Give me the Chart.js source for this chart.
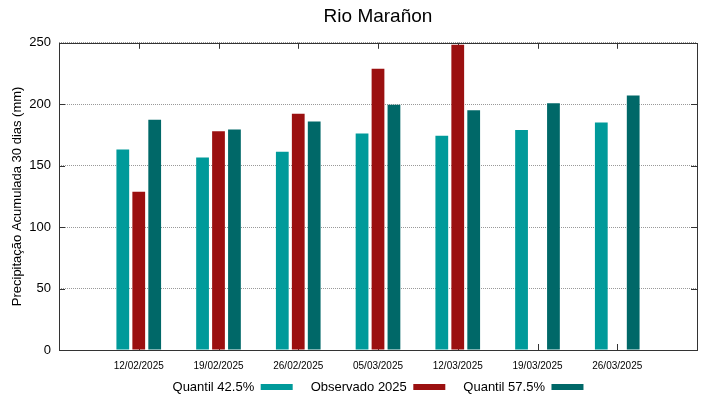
<!DOCTYPE html>
<html>
<head>
<meta charset="utf-8">
<script src="https://cdn.jsdelivr.net/npm/chart.js@4/dist/chart.umd.min.js"></script>
<style>
  html, body { margin: 0; padding: 0; background: #fff; }
  #wrap { width: 719px; height: 399px; }
</style>
</head>
<body>
<div id="wrap"><canvas id="grafico"></canvas></div>
<script>
const datas = ['12/02/2025', '19/02/2025', '26/02/2025', '05/03/2025', '12/03/2025', '19/03/2025', '26/03/2025'];
const quantil425 = [163.2, 156.7, 161.3, 176.2, 174.3, 179.0, 185.2];
const observado2025 = [128.8, 178.1, 192.2, 228.9, 248.4, null, null];
const quantil575 = [187.4, 179.5, 186.0, 199.6, 195.2, 200.9, 207.2];
const yMin = 0, yMax = 250, yPasso = 50;

// uma categoria vazia em cada ponta, como no grafico original
const comBorda = arr => [null, ...arr, null];
const rotulos = ['', ...datas, ''];

Chart.defaults.font.family = "'Liberation Sans', Arial, sans-serif";
Chart.defaults.color = '#000';

// moldura e marcas internas (estilo gnuplot)
const moldura = {
    id: 'moldura',
    beforeDatasetsDraw(chart) {
        const { ctx, chartArea: a, scales: { x, y } } = chart;
        ctx.save();
        ctx.strokeStyle = '#333';
        ctx.lineWidth = 1;
        ctx.beginPath();
        x.ticks.forEach((t, i) => {
            if (!x.getLabelForValue(t.value)) return;
            const px = Math.round(x.getPixelForTick(i)) + 0.5;
            ctx.moveTo(px, a.top); ctx.lineTo(px, a.top + 6);
            ctx.moveTo(px, a.bottom); ctx.lineTo(px, a.bottom - 6);
        });
        y.ticks.forEach((t, i) => {
            const py = Math.round(y.getPixelForTick(i)) + 0.5;
            ctx.moveTo(a.left, py); ctx.lineTo(a.left + 6, py);
            ctx.moveTo(a.right, py); ctx.lineTo(a.right - 6, py);
        });
        ctx.stroke();
        ctx.restore();
    },
    afterDatasetsDraw(chart) {
        const { ctx, chartArea: a } = chart;
        ctx.save();
        ctx.strokeStyle = '#333';
        ctx.lineWidth = 1;
        ctx.strokeRect(Math.round(a.left) + 0.5, Math.round(a.top) + 0.5,
            Math.round(a.right - a.left), Math.round(a.bottom - a.top));
        ctx.restore();
    }
};

new Chart(document.getElementById('grafico'), {
    type: 'bar',
    data: {
        labels: rotulos,
        datasets: [
            { label: 'Quantil 42.5%', data: comBorda(quantil425), backgroundColor: '#009a9a' },
            { label: 'Observado 2025', data: comBorda(observado2025), backgroundColor: '#9b1010' },
            { label: 'Quantil 57.5%', data: comBorda(quantil575), backgroundColor: '#006868' }
        ]
    },
    options: {
        responsive: true,
        maintainAspectRatio: false,
        animation: false,
        categoryPercentage: 0.6,
        barPercentage: 0.8,
        layout: { padding: { left: 0, right: 22, top: 4, bottom: -4.5 } },
        plugins: {
            title: {
                display: true,
                text: 'Rio Marañon',
                fullSize: false,
                font: { size: 19, weight: 'normal' },
                padding: { top: 1, bottom: 15 }
            },
            legend: {
                position: 'bottom',
                fullSize: false,
                rtl: true,
                reverse: true,
                labels: { boxWidth: 32, boxHeight: 6, padding: 18, font: { size: 13 } }
            },
            tooltip: { enabled: false }
        },
        scales: {
            x: {
                offset: false,
                grid: { display: false, drawTicks: false },
                border: { display: false },
                ticks: { autoSkip: false, maxRotation: 0, font: { size: 10 }, padding: 10 },
                afterFit(s) {
                    s.height = 12.5;
                    // rotulos passam por baixo da legenda, sem recorte
                    s._computeLabelArea = () => undefined;
                }
            },
            y: {
                min: yMin,
                max: yMax,
                ticks: { stepSize: yPasso, font: { size: 13 }, padding: 8 },
                grid: { color: '#999', drawTicks: false },
                border: { display: false, dash: [1, 1] },
                title: { display: true, text: 'Precipitação Acumulada 30 dias (mm)', font: { size: 13 }, padding: 10 },
                afterFit(s) { s.width = 59; }
            }
        }
    },
    plugins: [moldura]
});
</script>
</body>
</html>
